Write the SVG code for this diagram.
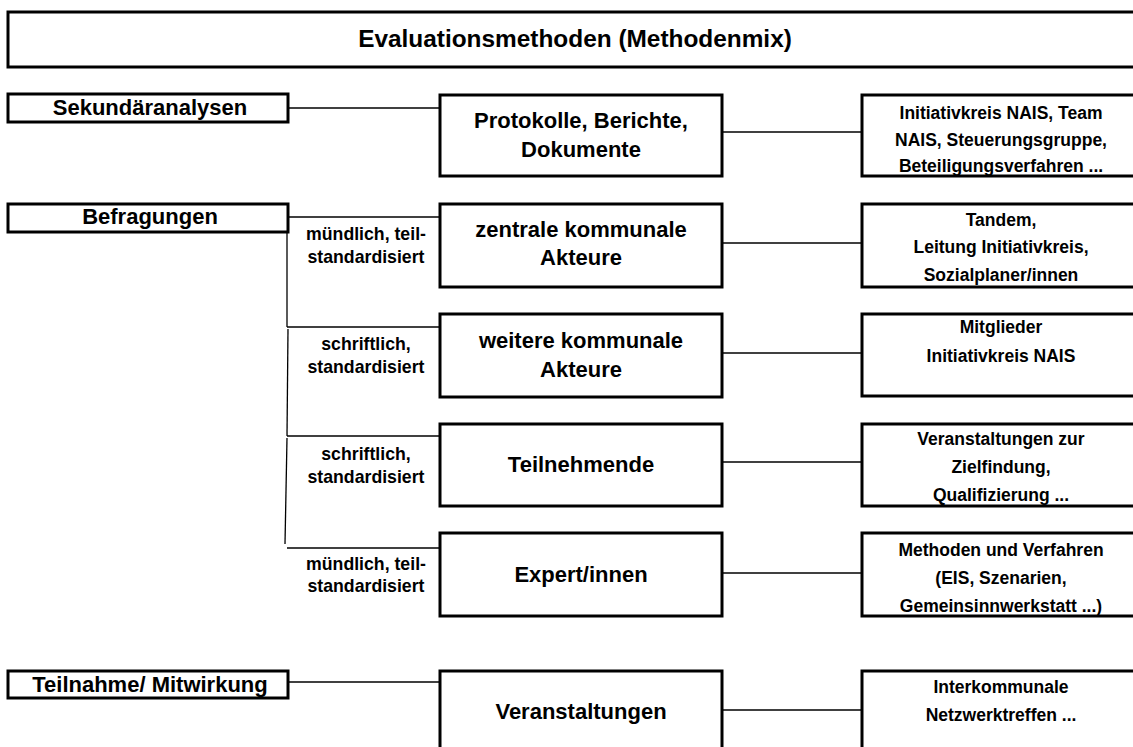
<svg xmlns="http://www.w3.org/2000/svg" width="1133" height="747" viewBox="0 0 1133 747">
<style>
.box{fill:#fff;stroke:#000;stroke-width:3}
.ln{fill:none;stroke:#000;stroke-width:1.3}
text{font-family:"Liberation Sans",Arial,sans-serif;font-weight:bold;fill:#000;text-anchor:middle}
.t{font-size:24.4px}
.h{font-size:22px}
.m{font-size:22px}
.r{font-size:17.5px}
.l{font-size:17.7px}
</style>
<rect width="1133" height="747" fill="#fff"/>
<g id="title"><rect class="box" x="8" y="12" width="1140" height="55"/><text class="t" x="575" y="47">Evaluationsmethoden (Methodenmix)</text></g>
<g id="connectors">
<line class="ln" x1="288" y1="108" x2="440" y2="108"/>
<line class="ln" x1="722" y1="132" x2="862" y2="132"/>
<polyline class="ln" points="288,217 440,217"/>
<polyline class="ln" points="287,217 287,327"/>
<polyline class="ln" points="287,327 440,327"/>
<polyline class="ln" points="288,329 287,436"/>
<polyline class="ln" points="287,436 440,436"/>
<polyline class="ln" points="287,438 285,544"/>
<polyline class="ln" points="287,548 440,548"/>
<line class="ln" x1="288" y1="682" x2="440" y2="682"/>
<line class="ln" x1="722" y1="243" x2="862" y2="243"/>
<line class="ln" x1="722" y1="353" x2="862" y2="353"/>
<line class="ln" x1="722" y1="462" x2="862" y2="462"/>
<line class="ln" x1="722" y1="573" x2="862" y2="573"/>
<line class="ln" x1="722" y1="710" x2="862" y2="710"/>
</g>
<g id="lbl1"><text class="l" x="366" y="240">mündlich, teil-</text><text class="l" x="366" y="263">standardisiert</text></g>
<g id="lbl2"><text class="l" x="366" y="350">schriftlich,</text><text class="l" x="366" y="373">standardisiert</text></g>
<g id="lbl3"><text class="l" x="366" y="460">schriftlich,</text><text class="l" x="366" y="483">standardisiert</text></g>
<g id="lbl4"><text class="l" x="366" y="570">mündlich, teil-</text><text class="l" x="366" y="592">standardisiert</text></g>
<g id="sekundaer"><rect class="box" x="8" y="94" width="280" height="28"/><text class="h" x="150" y="115">Sekundäranalysen</text></g>
<g id="befragungen"><rect class="box" x="8" y="204" width="280" height="28"/><text class="h" x="150" y="224">Befragungen</text></g>
<g id="teilnahme"><rect class="box" x="8" y="671" width="280" height="27"/><text class="h" x="150" y="692">Teilnahme/ Mitwirkung</text></g>
<g id="protokolle"><rect class="box" x="440" y="95" width="282" height="81"/><text class="m" x="581" y="128">Protokolle, Berichte,</text><text class="m" x="581" y="157">Dokumente</text></g>
<g id="zentrale"><rect class="box" x="440" y="204" width="282" height="83"/><text class="m" x="581" y="237">zentrale kommunale</text><text class="m" x="581" y="265">Akteure</text></g>
<g id="weitere"><rect class="box" x="440" y="314" width="282" height="83"/><text class="m" x="581" y="348">weitere kommunale</text><text class="m" x="581" y="377">Akteure</text></g>
<g id="teilnehmende"><rect class="box" x="440" y="424" width="282" height="82"/><text class="m" x="581" y="472">Teilnehmende</text></g>
<g id="experten"><rect class="box" x="440" y="533" width="282" height="83"/><text class="m" x="581" y="582">Expert/innen</text></g>
<g id="veranstaltungen"><rect class="box" x="440" y="671" width="282" height="90"/><text class="m" x="581" y="719">Veranstaltungen</text></g>
<g id="r1"><rect class="box" x="862" y="95" width="278" height="81"/><text class="r" x="1001" y="119">Initiativkreis NAIS, Team</text><text class="r" x="1001" y="146">NAIS, Steuerungsgruppe,</text><text class="r" x="1001" y="172">Beteiligungsverfahren ...</text></g>
<g id="r2"><rect class="box" x="862" y="204" width="278" height="83"/><text class="r" x="1001" y="226">Tandem,</text><text class="r" x="1001" y="253">Leitung Initiativkreis,</text><text class="r" x="1001" y="281">Sozialplaner/innen</text></g>
<g id="r3"><rect class="box" x="862" y="314" width="278" height="82"/><text class="r" x="1001" y="333">Mitglieder</text><text class="r" x="1001" y="362">Initiativkreis NAIS</text></g>
<g id="r4"><rect class="box" x="862" y="424" width="278" height="82"/><text class="r" x="1001" y="445">Veranstaltungen zur</text><text class="r" x="1001" y="473">Zielfindung,</text><text class="r" x="1001" y="501">Qualifizierung ...</text></g>
<g id="r5"><rect class="box" x="862" y="533" width="278" height="83"/><text class="r" x="1001" y="556">Methoden und Verfahren</text><text class="r" x="1001" y="584">(EIS, Szenarien,</text><text class="r" x="1001" y="612">Gemeinsinnwerkstatt ...)</text></g>
<g id="r6"><rect class="box" x="862" y="671" width="278" height="90"/><text class="r" x="1001" y="693">Interkommunale</text><text class="r" x="1001" y="721">Netzwerktreffen ...</text></g>
</svg>
